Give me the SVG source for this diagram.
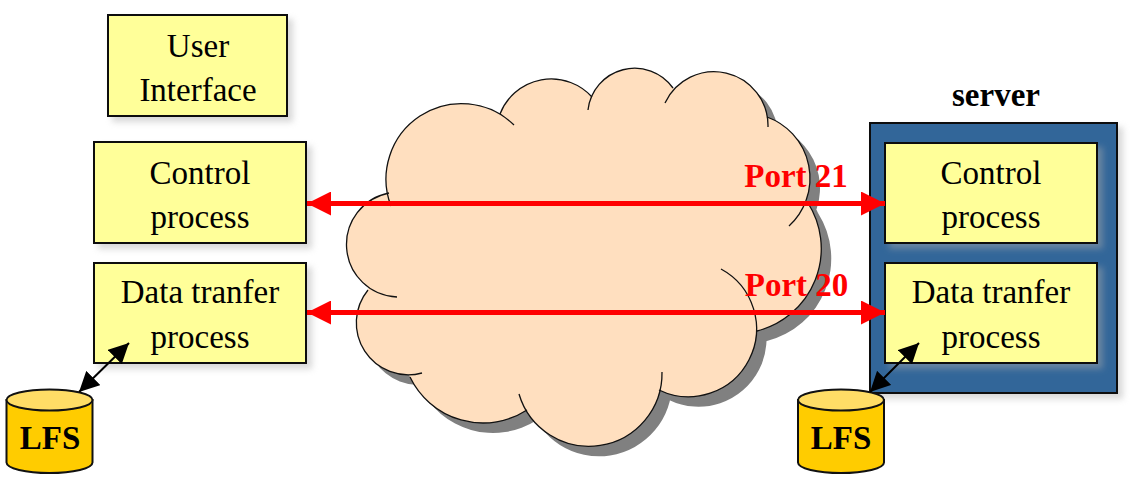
<svg xmlns="http://www.w3.org/2000/svg" width="1138" height="492" viewBox="0 0 1138 492">
<style>
text{font-family:"Liberation Serif","Times New Roman",serif;text-anchor:middle;font-size:33px;fill:#000}
.b{font-weight:bold}
.p{font-weight:bold;fill:#f00}
.box{fill:#ff9;stroke:#111;stroke-width:2;filter:url(#soft)}
.srv{fill:#369;stroke:#111;stroke-width:2;filter:url(#soft)}
.cyl{fill:#fc0;stroke:#111;stroke-width:2}
.top{fill:#fd6;stroke:#111;stroke-width:2}
.lobe{fill:none;stroke:#111;stroke-width:1.3}
.red{stroke:#f00;stroke-width:5;fill:none;marker-start:url(#rh);marker-end:url(#rh)}
.blk{stroke:#000;stroke-width:2;fill:none;marker-start:url(#kh);marker-end:url(#kh)}
</style>
<defs>
<filter id="soft" x="-10%" y="-10%" width="125%" height="125%"><feDropShadow dx="5" dy="5" stdDeviation="3" flood-color="#aaa" flood-opacity=".45"/></filter>
<marker id="rh" markerUnits="userSpaceOnUse" markerWidth="24" markerHeight="24" refX="24" refY="12" orient="auto-start-reverse"><path d="M0 0L24 12L0 24Z" fill="#f00"/></marker>
<marker id="kh" markerUnits="userSpaceOnUse" markerWidth="20" markerHeight="20" refX="20" refY="10" orient="auto-start-reverse"><path d="M0 0L20 10L0 20Z" fill="#000"/></marker>
<path id="outline" d="M389 193L500 114L592 97L673 88L767 117L808 203L757 331L659 390L527 410L410 377L368 290Z
M391 206A75.400 75.400 0 0 1 514 125Z
M500 114A55 55 0 0 1 592 97Z
M588 110A47 47 0 0 1 673 88Z
M665 103A54 54 0 0 1 768 127Z
M767 117A65 65 0 0 1 789 226Z
M808 203A85 85 0 0 1 757 331Z
M721 269A68 68 0 0 1 659 390Z
M662 372A73 73 0 0 1 519 394Z
M527 410A81 81 0 0 1 410 377Z
M422 373A52 52 0 0 1 368 290Z
M397 297A52.500 52.500 0 0 1 389 193Z"/>
</defs>
<g id="cloud">
<use href="#outline" x="10" y="10" fill="#808080"/>
<use href="#outline" fill="#ffdfbf"/>
<path class="lobe" d="M391 206A75.400 75.400 0 0 1 514 125"/>
<path class="lobe" d="M500 114A55 55 0 0 1 592 97"/>
<path class="lobe" d="M588 110A47 47 0 0 1 673 88"/>
<path class="lobe" d="M665 103A54 54 0 0 1 768 127"/>
<path class="lobe" d="M767 117A65 65 0 0 1 789 226"/>
<path class="lobe" d="M808 203A85 85 0 0 1 757 331"/>
<path class="lobe" d="M721 269A68 68 0 0 1 659 390"/>
<path class="lobe" d="M662 372A73 73 0 0 1 519 394"/>
<path class="lobe" d="M527 410A81 81 0 0 1 410 377"/>
<path class="lobe" d="M422 373A52 52 0 0 1 368 290"/>
<path class="lobe" d="M397 297A52.500 52.500 0 0 1 389 193"/>
</g>
<g id="user-interface"><rect class="box" x="108" y="15" width="179" height="101"/><text x="198" y="57">User</text><text x="198" y="101">Interface</text></g>
<g id="client-control"><rect class="box" x="94" y="142" width="212" height="101"/><text x="200" y="184">Control</text><text x="200" y="228">process</text></g>
<g id="client-data"><rect class="box" x="94" y="263" width="212" height="100"/><text x="200" y="303">Data tranfer</text><text x="200" y="348">process</text></g>
<g id="server"><text class="b" x="996" y="106">server</text><rect class="srv" x="870" y="123" width="247" height="270"/></g>
<g id="server-control"><rect class="box" x="885" y="143" width="212" height="100"/><text x="991" y="184">Control</text><text x="991" y="228">process</text></g>
<g id="server-data"><rect class="box" x="885" y="263" width="212" height="100"/><text x="991" y="303">Data tranfer</text><text x="991" y="348">process</text></g>
<g id="client-lfs"><path class="cyl" d="M6.500 400V462.500A43 10.500 0 0 0 92.500 462.500V400Z"/><ellipse class="top" cx="49.500" cy="400" rx="43" ry="10.500"/><text class="b" x="50" y="449">LFS</text></g>
<g id="server-lfs"><path class="cyl" d="M798 400V462.500A43 10.500 0 0 0 884 462.500V400Z"/><ellipse class="top" cx="841" cy="400" rx="43" ry="10.500"/><text class="b" x="841" y="449">LFS</text></g>
<g id="connectors">
<path class="red" d="M307 203.500H885"/>
<path class="red" d="M307 312.500H885"/>
<path class="blk" d="M79 392L129 343"/>
<path class="blk" d="M870 392L919 343"/>
</g>
<text class="p" x="796" y="187">Port 21</text>
<text class="p" x="796.500" y="296">Port 20</text>
</svg>
